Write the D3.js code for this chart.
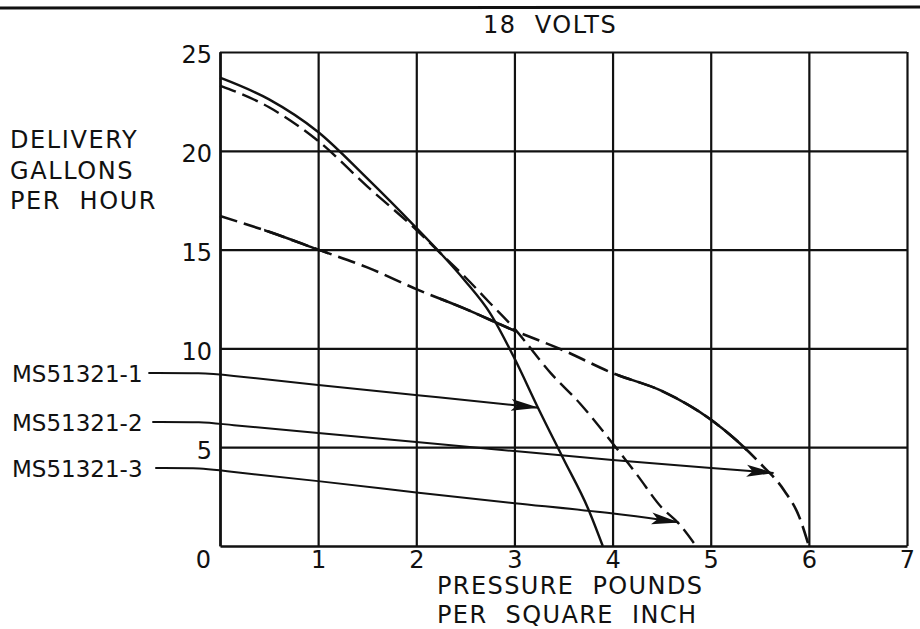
<!DOCTYPE html>
<html>
<head>
<meta charset="utf-8">
<script src="https://cdn.jsdelivr.net/npm/d3@7"></script>
<style>
  body { margin: 0; background: #fff; }
  svg { display: block; font-family: "DejaVu Sans", sans-serif; }
  text { fill: #111; }
</style>
</head>
<body>
<div id="chart"></div>
<script>
// tick values
const xTicks = [0, 1, 2, 3, 4, 5, 6, 7];
const yTicks = [5, 10, 15, 20, 25];

// curves: [pressure psi, delivery gph]
const curveSolid = [[0, 23.7], [0.5, 22.6], [1, 20.95], [1.5, 18.6], [2, 16.1], [2.25, 14.8], [2.5, 13.4],
  [2.75, 11.8], [3, 9.5], [3.24, 7.0], [3.5, 4.4], [3.75, 1.9], [3.9, 0]];
const curveDashed = [[0, 23.3], [0.5, 22.2], [1, 20.5], [1.5, 18.2], [2, 16.0], [2.25, 14.8], [2.5, 13.6],
  [2.75, 12.3], [3, 11.0], [3.37, 8.75], [3.67, 7.2], [4, 5.2], [4.25, 3.6], [4.5, 1.95], [4.67, 1.16], [4.85, 0]];
const curveLow = [[0, 16.7], [0.5, 15.9], [1, 15.0], [1.5, 14.1], [2, 13.0], [2.5, 12.0], [3, 10.9], [3.5, 9.9],
  [4, 8.75], [4.5, 7.85], [5, 6.4], [5.25, 5.4], [5.5, 4.2], [5.75, 2.8], [5.9, 1.5], [6, 0]];
// parts of the lower curve drawn solid (x ranges)
const curveLowSolid = [[0.45, 1.1], [2.24, 3.0], [4.05, 5.36]];

// part-number leaders (start left of the axis, end at arrow tip)
const leaderNames = ["MS51321-1", "MS51321-2", "MS51321-3"];
const leaders = [
  [[-0.73, 8.75], [-0.15, 8.75], [0, 8.68], [1, 8.15], [2, 7.64], [3.24, 7.0]],
  [[-0.69, 6.28], [-0.15, 6.28], [0, 6.17], [1, 5.72], [2, 5.26], [3, 4.8], [4, 4.35], [5, 3.95], [5.64, 3.7]],
  [[-0.66, 3.95], [-0.15, 3.95], [0, 3.8], [1, 3.3], [2, 2.7], [3, 2.15], [4, 1.68], [4.67, 1.2]]
];

const width = 920, height = 629;
const plotL = 220, plotR = 907, plotT = 52, plotB = 546;

const x = d3.scaleLinear().domain([0, 7]).range([plotL, plotR]);
const y = d3.scaleLinear().domain([0, 25]).range([plotB, plotT]);

const svg = d3.select("#chart").append("svg")
  .attr("width", width).attr("height", height);

svg.append("rect").attr("width", width).attr("height", height).attr("fill", "#fff");

// rule across the top
svg.append("line")
  .attr("x1", 0).attr("x2", width).attr("y1", 8).attr("y2", 7)
  .attr("stroke", "#111").attr("stroke-width", 3);

svg.append("text")
  .attr("x", 483).attr("y", 33)
  .attr("font-size", 24).style("white-space", "pre")
  .style("letter-spacing", "1.5px")
  .text("18  VOLTS");

// grid via axes
const gx = svg.append("g")
  .attr("transform", `translate(0,${plotB})`)
  .call(d3.axisBottom(x).tickValues(xTicks).tickFormat(d3.format("d"))
    .tickSize(-(plotB - plotT)).tickSizeOuter(0).tickPadding(5));

const gy = svg.append("g")
  .attr("transform", `translate(${plotL},0)`)
  .call(d3.axisLeft(y).tickValues(yTicks).tickFormat(d3.format("d"))
    .tickSize(-(plotR - plotL)).tickSizeOuter(0).tickPadding(8));

[gx, gy].forEach(g => {
  g.select(".domain").attr("stroke", "#111").attr("stroke-width", 2.5);
  g.selectAll(".tick line").attr("stroke", "#111").attr("stroke-width", 2.2);
  g.selectAll(".tick text").attr("font-size", 24).attr("fill", "#111")
    .attr("font-family", "DejaVu Sans, sans-serif");
});
gy.selectAll(".tick text").attr("dy", "0.45em");
gx.selectAll(".tick text").filter(d => d === 0).attr("dx", -17);

// axis titles
const yTitle = ["DELIVERY", "GALLONS", "PER  HOUR"];
svg.append("g").selectAll("text").data(yTitle).join("text")
  .attr("x", 10).attr("y", (d, i) => 148 + i * 30.5)
  .attr("font-size", 24).style("letter-spacing", "1.6px").style("white-space", "pre")
  .text(d => d);

const xTitle = ["PRESSURE  POUNDS", "PER  SQUARE  INCH"];
svg.append("g").selectAll("text").data(xTitle).join("text")
  .attr("x", 437).attr("y", (d, i) => 594 + i * 29)
  .attr("font-size", 24).style("letter-spacing", "1.4px").style("white-space", "pre")
  .text(d => d);

// curves
const lineC = d3.line().x(d => x(d[0])).y(d => y(d[1])).curve(d3.curveMonotoneX);

svg.append("path").attr("d", lineC(curveSolid))
  .attr("fill", "none").attr("stroke", "#111").attr("stroke-width", 2.4);

svg.append("path").attr("d", lineC(curveDashed))
  .attr("fill", "none").attr("stroke", "#111").attr("stroke-width", 2.4)
  .attr("stroke-dasharray", "17,7");

svg.append("path").attr("d", lineC(curveLow))
  .attr("fill", "none").attr("stroke", "#111").attr("stroke-width", 2.6)
  .attr("stroke-dasharray", "18,7");

const defs = svg.append("defs");
curveLowSolid.forEach((s, i) => {
  defs.append("clipPath").attr("id", "seg" + i)
    .append("rect")
    .attr("x", x(s[0])).attr("width", x(s[1]) - x(s[0]))
    .attr("y", 0).attr("height", height);
  svg.append("path").attr("d", lineC(curveLow))
    .attr("clip-path", `url(#seg${i})`)
    .attr("fill", "none").attr("stroke", "#111").attr("stroke-width", 2.6);
});

// arrowhead
defs.append("marker")
  .attr("id", "arrow").attr("markerUnits", "userSpaceOnUse")
  .attr("viewBox", "0 -7 28 14").attr("markerWidth", 28).attr("markerHeight", 14)
  .attr("refX", 27).attr("refY", 0).attr("orient", "auto")
  .append("path").attr("d", "M0,-6 L28,0 L0,6 L6,0 Z").attr("fill", "#111");

const leaderLine = d3.line().x(d => x(d[0])).y(d => y(d[1])).curve(d3.curveBasis);
svg.append("g").selectAll("path").data(leaders).join("path")
  .attr("d", leaderLine)
  .attr("fill", "none").attr("stroke", "#111").attr("stroke-width", 2)
  .attr("marker-end", "url(#arrow)");

svg.append("g").selectAll("text").data(leaderNames).join("text")
  .attr("x", 12)
  .attr("y", (d, i) => y(leaders[i][0][1]) + 9)
  .attr("font-size", 23)
  .text(d => d);
</script>
</body>
</html>
